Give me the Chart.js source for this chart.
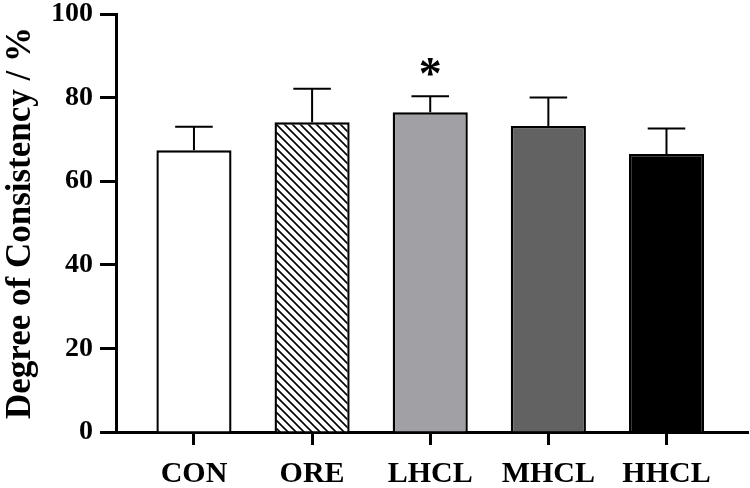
<!DOCTYPE html>
<html>
<head>
<meta charset="utf-8">
<script src="https://cdn.jsdelivr.net/npm/chart.js@4"></script>
<style>
  html, body { margin: 0; padding: 0; background: #fff; }
  #wrap { width: 750px; height: 488px; }
</style>
</head>
<body>
<div id="wrap"><canvas id="chart" width="750" height="488"></canvas></div>
<script>
// Data
const groups = ['CON', 'ORE', 'LHCL', 'MHCL', 'HHCL'];
const means = [67.4, 74.1, 76.5, 73.2, 66.5];
const errors = [5.6, 8.0, 3.8, 6.8, 6.1];
const marks = ['', '', '*', '', ''];
const yTicks = [0, 20, 40, 60, 80, 100];

const serif = '"Liberation Serif", "Times New Roman", serif';

// diagonal hatch for ORE
function hatch() {
    const c = document.createElement('canvas');
    c.width = 8; c.height = 8;
    const g = c.getContext('2d');
    g.fillStyle = '#fff';
    g.fillRect(0, 0, 8, 8);
    g.strokeStyle = '#000';
    g.lineWidth = 1.6;
    g.beginPath();
    g.moveTo(-2, -2); g.lineTo(10, 10);
    g.moveTo(-2, 6); g.lineTo(2, 10);
    g.moveTo(6, -2); g.lineTo(10, 2);
    g.stroke();
    return g.createPattern(c, 'repeat');
}

const fills = ['#ffffff', hatch(), '#a0a0a5', '#626262', '#000000'];

// error bars + significance marks
const errorBars = {
    id: 'errorBars',
    afterDatasetsDraw(chart) {
        const ctx = chart.ctx;
        const meta = chart.getDatasetMeta(0);
        const y = chart.scales.y;
        ctx.save();
        ctx.strokeStyle = '#000';
        ctx.lineWidth = 2;
        meta.data.forEach((bar, i) => {
            const top = y.getPixelForValue(means[i] + errors[i]);
            const half = bar.width / 4;
            ctx.beginPath();
            ctx.moveTo(bar.x, bar.y);
            ctx.lineTo(bar.x, top);
            ctx.moveTo(bar.x - half, top);
            ctx.lineTo(bar.x + half, top);
            ctx.stroke();
            if (marks[i]) {
                ctx.fillStyle = '#000';
                ctx.font = 'bold 46px ' + serif;
                ctx.textAlign = 'center';
                ctx.textBaseline = 'alphabetic';
                const m = ctx.measureText(marks[i]);
                const centre = top - 29;
                const base = centre - (m.actualBoundingBoxDescent - m.actualBoundingBoxAscent) / 2;
                ctx.fillText(marks[i], bar.x, base);
            }
        });
        ctx.restore();
    }
};

new Chart(document.getElementById('chart'), {
    type: 'bar',
    data: {
        datasets: [{
            data: means.map((v, i) => ({ x: i, y: v })),
            backgroundColor: fills,
            borderColor: '#000',
            borderWidth: 2.4,
            categoryPercentage: 1,
            barPercentage: 0.636
        }]
    },
    options: {
        responsive: false,
        animation: false,
        layout: { padding: { top: 14, right: 2, left: 0, bottom: 0 } },
        plugins: { legend: { display: false }, tooltip: { enabled: false } },
        scales: {
            x: {
                type: 'linear',
                offset: false,
                min: -0.66,
                max: 4.69,
                afterBuildTicks: s => { s.ticks = groups.map((g, i) => ({ value: i })); },
                afterFit: s => { s.height = 56; s.paddingLeft = 0; s.paddingRight = 0; },
                border: { display: true, color: '#000', width: 3 },
                grid: { display: true, offset: false, drawOnChartArea: false, drawTicks: true, tickLength: 13, tickWidth: 3, tickColor: '#000' },
                ticks: {
                    autoSkip: false,
                    maxRotation: 0,
                    padding: 11,
                    color: '#000',
                    font: { family: serif, size: 30, weight: 'bold' },
                    callback: v => groups[v]
                }
            },
            y: {
                min: 0,
                max: 100,
                afterBuildTicks: s => { s.ticks = yTicks.map(v => ({ value: v })); },
                afterFit: s => { s.width = 116; s.paddingTop = 0; s.paddingBottom = 0; },
                border: { display: true, color: '#000', width: 3 },
                grid: { display: true, drawOnChartArea: false, drawTicks: true, tickLength: 16, tickWidth: 3, tickColor: '#000' },
                ticks: {
                    padding: 7,
                    color: '#000',
                    font: { family: serif, size: 28, weight: 'bold' }
                },
                title: {
                    display: true,
                    text: 'Degree of Consistency / %',
                    color: '#000',
                    padding: 0,
                    font: { family: serif, size: 35, weight: 'bold' }
                }
            }
        }
    },
    plugins: [errorBars]
});
</script>
</body>
</html>
